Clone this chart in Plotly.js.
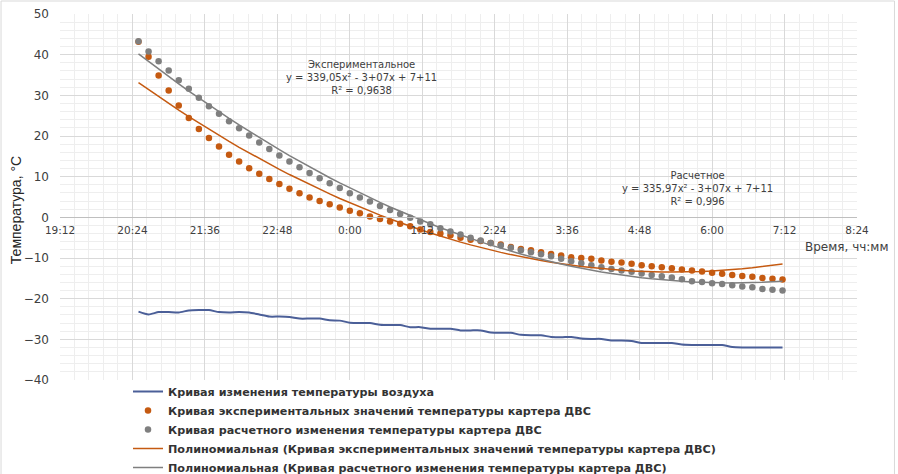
<!DOCTYPE html>
<html>
<head>
<meta charset="utf-8">
<script src="https://cdn.plot.ly/plotly-3.0.1.min.js"></script>
<style>
  html, body { margin: 0; padding: 0; background: #ffffff; }
  #chart { width: 898px; height: 474px; }
</style>
</head>
<body>
<div id="chart"></div>
<script>
// Measurement times (every 10 minutes, evening into the next morning)
const times = [
  '20:30','20:40','20:50','21:00','21:10','21:20','21:30','21:40','21:50','22:00',
  '22:10','22:20','22:30','22:40','22:50','23:00','23:10','23:20','23:30','23:40',
  '23:50','0:00','0:10','0:20','0:30','0:40','0:50','1:00','1:10','1:20',
  '1:30','1:40','1:50','2:00','2:10','2:20','2:30','2:40','2:50','3:00',
  '3:10','3:20','3:30','3:40','3:50','4:00','4:10','4:20','4:30','4:40',
  '4:50','5:00','5:10','5:20','5:30','5:40','5:50','6:00','6:10','6:20',
  '6:30','6:40','6:50','7:00','7:10'
];

// Air temperature, °C
const airTemp = [
  -23.2, -23.9, -23.3, -23.3, -23.4, -22.9, -22.8, -22.8, -23.3, -23.4,
  -23.3, -23.4, -23.9, -24.4, -24.4, -24.5, -24.9, -24.9, -24.9, -25.3,
  -25.4, -25.9, -26.0, -26.0, -26.4, -26.5, -26.5, -27.0, -27.0, -27.4,
  -27.4, -27.4, -27.8, -27.8, -27.8, -28.3, -28.4, -28.4, -28.9, -29.0,
  -29.0, -29.4, -29.5, -29.4, -29.8, -29.9, -29.9, -30.3, -30.3, -30.4,
  -30.9, -30.9, -30.9, -30.9, -31.3, -31.4, -31.4, -31.4, -31.4, -31.9,
  -32.0, -32.0, -32.0, -32.0, -32.0
];

// Engine crankcase temperature, experimental values, °C
const crankExp = [
  43.2, 39.5, 34.9, 31.2, 27.5, 24.4, 21.7, 19.5, 17.4, 15.4,
  13.7, 12.1, 10.7, 9.4, 8.2, 7.0, 5.9, 4.9, 4.0, 3.2,
  2.4, 1.6, 1.0, 0.2, -0.4, -1.0, -1.6, -2.2, -3.0, -3.6,
  -4.0, -4.4, -5.0, -5.5, -5.8, -6.3, -6.7, -7.3, -7.8, -8.1,
  -8.6, -9.0, -9.4, -9.8, -10.0, -10.2, -10.6, -10.9, -11.1, -11.4,
  -11.8, -12.0, -12.3, -12.5, -12.8, -13.1, -13.3, -13.6, -13.9, -14.2,
  -14.4, -14.6, -14.9, -15.1, -15.3
];

// Engine crankcase temperature, calculated values, °C
const crankCalc = [
  43.3, 40.8, 38.4, 36.1, 33.7, 31.6, 29.4, 27.3, 25.5, 23.6,
  21.9, 20.1, 18.4, 16.8, 15.2, 13.7, 12.3, 10.9, 9.6, 8.4,
  7.2, 5.9, 4.9, 3.9, 2.8, 1.8, 0.8, -0.1, -1.0, -1.7,
  -2.7, -3.5, -4.2, -5.0, -5.7, -6.3, -6.9, -7.5, -8.1, -8.6,
  -9.1, -9.6, -10.2, -10.8, -11.3, -11.8, -12.3, -12.7, -13.1, -13.4,
  -13.8, -14.2, -14.5, -14.8, -15.2, -15.7, -15.9, -16.2, -16.4, -16.7,
  -17.0, -17.2, -17.6, -17.8, -18.0
];

// Horizontal axis tick labels
const xTickLabels = ['19:12','20:24','21:36','22:48','0:00','1:12','2:24','3:36','4:48','6:00','7:12','8:24'];

const seriesNames = [
  'Кривая изменения температуры воздуха',
  'Кривая экспериментальных значений температуры картера ДВС',
  'Кривая расчетного изменения температуры картера ДВС',
  'Полиномиальная (Кривая экспериментальных значений температуры картера ДВС)',
  'Полиномиальная (Кривая расчетного изменения температуры картера ДВС)'
];

// "H:MM" -> hours on a continuous scale (times after midnight continue past 24)
function toHours(s) {
  const [h, m] = s.split(':').map(Number);
  let v = h + m / 60;
  if (v < 12) v += 24;
  return v;
}

// Second-order least-squares polynomial (trend line)
function polyFit2(xs, ys) {
  const n = xs.length;
  const mx = xs.reduce((a, b) => a + b, 0) / n;
  let s1 = 0, s2 = 0, s3 = 0, s4 = 0, t0 = 0, t1 = 0, t2 = 0;
  for (let i = 0; i < n; i++) {
    const u = xs[i] - mx, y = ys[i];
    s1 += u; s2 += u * u; s3 += u * u * u; s4 += u * u * u * u;
    t0 += y; t1 += u * y; t2 += u * u * y;
  }
  const A = [[n, s1, s2, t0], [s1, s2, s3, t1], [s2, s3, s4, t2]];
  for (let c = 0; c < 3; c++) {
    for (let r = c + 1; r < 3; r++) {
      const f = A[r][c] / A[c][c];
      for (let k = c; k < 4; k++) A[r][k] -= f * A[c][k];
    }
  }
  const coef = [0, 0, 0];
  for (let r = 2; r >= 0; r--) {
    let s = A[r][3];
    for (let k = r + 1; k < 3; k++) s -= A[r][k] * coef[k];
    coef[r] = s / A[r][r];
  }
  return x => { const u = x - mx; return coef[0] + coef[1] * u + coef[2] * u * u; };
}

const xh = times.map(toHours);
const fitExp = polyFit2(xh, crankExp);
const fitCalc = polyFit2(xh, crankCalc);

const ORANGE = '#C55A11';
const GREY = '#7F7F7F';
const BLUE = '#4B5F98';
const textFont = 'DejaVu Sans, Verdana, sans-serif';
const narrowFont = 'Liberation Sans Narrow, Arial Narrow, Liberation Sans, sans-serif';

const traces = [
  {
    x: xh, y: airTemp, name: seriesNames[0], type: 'scatter', mode: 'lines',
    line: { color: BLUE, width: 2, shape: 'spline', smoothing: 0.6 }
  },
  {
    x: xh, y: crankExp, name: seriesNames[1], type: 'scatter', mode: 'markers',
    marker: { color: ORANGE, size: 6.5 }
  },
  {
    x: xh, y: crankCalc, name: seriesNames[2], type: 'scatter', mode: 'markers',
    marker: { color: GREY, size: 6.5 }
  },
  {
    x: xh, y: xh.map(fitExp), name: seriesNames[3], type: 'scatter', mode: 'lines',
    line: { color: ORANGE, width: 1.5 }
  },
  {
    x: xh, y: xh.map(fitCalc), name: seriesNames[4], type: 'scatter', mode: 'lines',
    line: { color: GREY, width: 1.5 }
  }
];

const layout = {
  width: 898, height: 474,
  margin: { l: 60, r: 40.5, t: 14, b: 94, autoexpand: false },
  paper_bgcolor: '#ffffff', plot_bgcolor: '#ffffff',
  showlegend: true,
  legend: {
    xref: 'container', yref: 'container',
    x: 128 / 898, xanchor: 'left', y: 1 - 377 / 474, yanchor: 'top',
    font: { family: textFont, size: 11.2, weight: 'bold', color: '#333333' },
    bgcolor: 'rgba(0,0,0,0)', tracegroupgap: 0
  },
  xaxis: {
    range: [toHours(xTickLabels[0]), toHours(xTickLabels[xTickLabels.length - 1])],
    tickmode: 'array',
    tickvals: xTickLabels.map(toHours),
    ticktext: xTickLabels,
    anchor: 'free', position: 40 / 90,
    showline: true, linecolor: '#BFBFBF', linewidth: 1,
    showgrid: true, gridcolor: '#D9D9D9', gridwidth: 1,
    zeroline: false, ticks: '',
    ticklabelstandoff: 3,
    minor: { tickmode: 'linear', tick0: 19.2, dtick: 0.24, showgrid: true, gridcolor: '#EEEEEE', gridwidth: 1, ticks: '' },
    tickfont: { family: textFont, size: 10.5, color: '#404040' },
    fixedrange: true
  },
  yaxis: {
    range: [-40, 50], dtick: 10, tick0: 0,
    showgrid: true, gridcolor: '#D9D9D9', gridwidth: 1,
    zeroline: false, showline: false, ticks: '',
    ticklabelstandoff: 10,
    minor: { dtick: 2, showgrid: true, gridcolor: '#EEEEEE', gridwidth: 1, ticks: '' },
    tickfont: { family: textFont, size: 12, color: '#404040' },
    fixedrange: true
  },
  annotations: [
    {
      text: 'Экспериментальное<br>y = 339,05x² - 3+07x + 7+11<br>R² = 0,9638',
      xref: 'x', yref: 'y', x: 24.2, y: 34.3, showarrow: false, align: 'center',
      font: { family: textFont, size: 10, color: '#404040' }
    },
    {
      text: 'Расчетное<br>y = 335,97x² - 3+07x + 7+11<br>R² = 0,996',
      xref: 'x', yref: 'y', x: 29.76, y: 7.0, showarrow: false, align: 'center',
      font: { family: textFont, size: 10, color: '#404040' }
    },
    {
      text: 'Время, чч:мм',
      xref: 'paper', yref: 'y', x: 1.0408, y: -7.3, xanchor: 'right', showarrow: false,
      font: { family: textFont, size: 12, color: '#404040' }
    },
    {
      text: 'Температура, °C',
      xref: 'paper', yref: 'paper', x: -0.055, y: 0.4645, xanchor: 'center', yanchor: 'middle',
      textangle: -90, showarrow: false,
      font: { family: narrowFont, size: 14, color: '#262626' }
    }
  ],
  shapes: [
    {
      type: 'rect', xref: 'paper', yref: 'paper',
      x0: (1 - 60) / 797.5, x1: (895 - 60) / 797.5, y0: -0.3, y1: (380 - 1) / 366,
      line: { color: '#D9D9D9', width: 1 }, fillcolor: 'rgba(0,0,0,0)', layer: 'below'
    }
  ]
};

Plotly.newPlot('chart', traces, layout, { staticPlot: true, displayModeBar: false });
</script>
</body>
</html>
